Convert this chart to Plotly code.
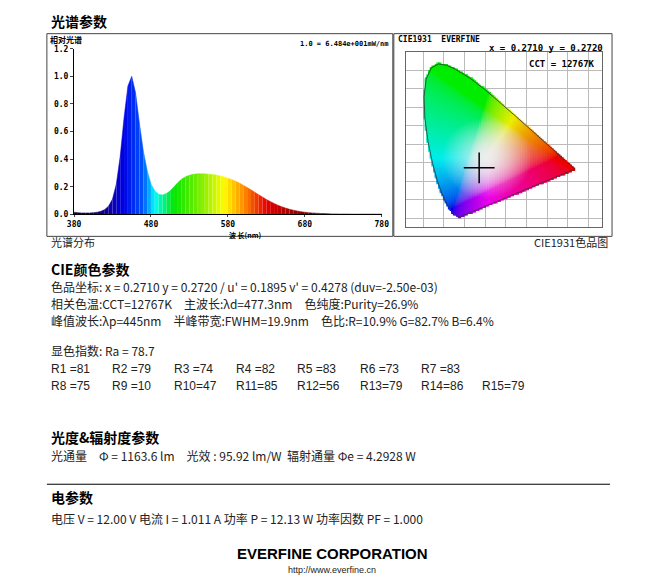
import plotly.graph_objects as go
import numpy as np

# ---- data ----
wavelengths = list(range(380, 785, 5))
rel_power = [0.015,0.012,0.010,0.010,0.010,0.012,0.015,0.022,0.035,0.06,0.11,0.22,0.42,0.70,0.93,1.00,0.88,0.66,0.46,0.32,0.22,0.17,0.145,0.14,0.15,0.17,0.20,0.23,0.255,0.272,0.283,0.290,0.293,0.294,0.293,0.291,0.288,0.284,0.278,0.271,0.262,0.252,0.240,0.226,0.211,0.195,0.178,0.160,0.142,0.125,0.108,0.093,0.079,0.066,0.055,0.045,0.037,0.030,0.024,0.019,0.015,0.012,0.010,0.008,0.006,0.005,0.004,0.003,0.003,0.002,0.002,0.002,0.001,0.001,0.001,0.001,0.001,0.001,0.001,0.001,0.001]
spec_xticks = [380, 480, 580, 680, 780]
spec_yticks = [0.0, 0.2, 0.4, 0.6, 0.8, 1.0, 1.2]
locus_x = [0.1741,0.1440,0.1241,0.1096,0.0913,0.0687,0.0454,0.0235,0.0082,0.0039,0.0139,0.0389,0.0743,0.1142,0.1547,0.2296,0.3016,0.3731,0.4441,0.5125,0.5752,0.6270,0.6915,0.7190,0.7347]
locus_y = [0.0050,0.0297,0.0578,0.0868,0.1327,0.2007,0.2950,0.4127,0.5384,0.6548,0.7502,0.8120,0.8338,0.8262,0.8059,0.7543,0.6923,0.6245,0.5547,0.4866,0.4242,0.3725,0.3083,0.2809,0.2653]
chroma_x, chroma_y = 0.2710, 0.2720

W, H = 650, 579
def px(x): return (48 + (x - 63) / 0.973) / W
def py(y): return 1 - (22 + (y - 35) / 0.981) / H

def wl_color(w):
    stops = [(380,(10,0,60)),(420,(20,0,140)),(445,(0,0,230)),(470,(0,90,255)),(485,(0,255,255)),(510,(0,230,0)),(550,(150,240,0)),(575,(255,255,0)),(600,(255,140,0)),(630,(230,0,0)),(680,(130,0,0)),(740,(40,0,0)),(780,(10,0,0))]
    for (a,ca),(b,cb) in zip(stops, stops[1:]):
        if a <= w <= b:
            t = (w-a)/(b-a)
            c = [int(ca[i]+(cb[i]-ca[i])*t) for i in range(3)]
            return f"rgb({c[0]},{c[1]},{c[2]})"
    return "rgb(0,0,0)"

fig = go.Figure()
for i in range(len(wavelengths)-1):
    col = wl_color((wavelengths[i]+wavelengths[i+1])/2)
    fig.add_trace(go.Scatter(x=[wavelengths[i], wavelengths[i+1]], y=[rel_power[i], rel_power[i+1]],
                             fill="tozeroy", mode="lines", line=dict(color=col, width=0.5),
                             fillcolor=col, showlegend=False, hoverinfo="skip", xaxis="x", yaxis="y"))

def inside(x, y, xs, ys):
    n = len(xs); c = False; j = n-1
    for i in range(n):
        if ((ys[i] > y) != (ys[j] > y)) and (x < (xs[j]-xs[i])*(y-ys[i])/(ys[j]-ys[i]+1e-12)+xs[i]):
            c = not c
        j = i
    return c
gx, gy, gc = [], [], []
for xv in np.arange(0.0, 0.75, 0.008):
    for yv in np.arange(0.0, 0.85, 0.008):
        if inside(xv, yv, locus_x, locus_y):
            X = xv/yv; Z = (1-xv-yv)/yv
            r = 3.2406*X - 1.5372 - 0.4986*Z
            g = -0.9689*X + 1.8758 + 0.0415*Z
            b = 0.0557*X - 0.2040 + 1.0570*Z
            rgb = np.clip([r, g, b], 0, None); m = max(rgb.max(), 1e-6); rgb = rgb/m
            rgb = np.where(rgb <= 0.0031308, 12.92*rgb, 1.055*rgb**(1/2.4)-0.055)
            d = min(1.0, np.hypot(xv-0.3127, yv-0.329)/0.22)
            rgb = np.clip(rgb, 0, 1)*d + (1-d)
            rgb = rgb*0.93
            gx.append(xv); gy.append(yv)
            gc.append("rgb(%d,%d,%d)" % tuple(int(v*255) for v in np.clip(rgb, 0, 1)))
fig.add_trace(go.Scatter(x=gx, y=gy, mode="markers", marker=dict(symbol="square", size=3.5, color=gc, line=dict(width=0)),
                         showlegend=False, hoverinfo="skip", xaxis="x2", yaxis="y2"))
fig.add_trace(go.Scatter(x=locus_x+[locus_x[0]], y=locus_y+[locus_y[0]], mode="lines", line=dict(color="#333", width=0.8),
                         showlegend=False, hoverinfo="skip", xaxis="x2", yaxis="y2"))
fig.add_trace(go.Scatter(x=[chroma_x], y=[chroma_y], mode="markers", marker=dict(symbol="cross-thin", size=22, line=dict(color="black", width=1.5)),
                         showlegend=False, xaxis="x2", yaxis="y2"))

mono = dict(family="DejaVu Sans Mono", size=8, color="black", weight="bold")
fig.update_layout(
    width=W, height=H, margin=dict(l=0, r=0, t=0, b=0), paper_bgcolor="white", plot_bgcolor="white",
    xaxis=dict(domain=[px(75), px(381)], range=[380, 780], tickvals=spec_xticks, showgrid=False, zeroline=False,
               showline=True, linecolor="black", ticks="outside", ticklen=2, tickfont=mono, anchor="y"),
    yaxis=dict(domain=[py(215), py(50)], range=[0, 1.2], tickvals=spec_yticks, tickformat=".1f", showgrid=False, zeroline=False,
               showline=True, linecolor="black", ticks="outside", ticklen=3, tickfont=mono, anchor="x"),
    xaxis2=dict(domain=[px(405), px(600)], range=[-0.084, 0.866], dtick=0.1, showgrid=True, gridcolor="#bbb", zeroline=False,
                showticklabels=False, showline=True, linecolor="#666", mirror=True, anchor="y2"),
    yaxis2=dict(domain=[py(228), py(53)], range=[-0.05, 0.9], dtick=0.1, showgrid=True, gridcolor="#bbb", zeroline=False,
                showticklabels=False, showline=True, linecolor="#666", mirror=True, anchor="x2"),
)

shapes = [
    dict(type="rect", xref="paper", yref="paper", x0=px(48), x1=px(392), y0=py(237), y1=py(35), line=dict(color="#444", width=1)),
    dict(type="rect", xref="paper", yref="paper", x0=px(393), x1=px(610), y0=py(237), y1=py(35), line=dict(color="#444", width=1)),
    dict(type="line", xref="paper", yref="paper", x0=px(48), x1=px(608), y0=py(484), y1=py(484), line=dict(color="black", width=1)),
]
fig.update_layout(shapes=shapes)

cjk = "Noto Sans CJK SC"
def txt(x, y, s, size=12, bold=False, anchor="left", family=cjk, color="#222"):
    fig.add_annotation(x=px(x), y=py(y), xref="paper", yref="paper", text=("<b>%s</b>" % s) if bold else s,
                       showarrow=False, xanchor=anchor, yanchor="middle", font=dict(family=family, size=size, color=color))

txt(50, 22, "光谱参数", 14, True, color="black")
txt(49, 41, "相对光谱", 8, True, color="black")
txt(298, 45, "<b>1.0 = 6.484e+001mW/nm</b>", 7, family="DejaVu Sans Mono", color="black")
txt(263, 236, "<b>波 长(nm)</b>", 7, anchor="right", color="black")
txt(395, 41, "<b>CIE1931  EVERFINE</b>", 8, family="DejaVu Sans Mono", color="black")
txt(486, 49, "<b>x = 0.2710 y = 0.2720</b>", 9, family="DejaVu Sans Mono", color="black")
txt(525, 65, "<b>CCT = 12767K</b>", 9, family="DejaVu Sans Mono", color="black")
txt(50, 243, "光谱分布", 11)
txt(608, 243, "CIE1931色品图", 11, anchor="right")
txt(50, 270, "CIE颜色参数", 14, True, color="black")
txt(50, 287, "色品坐标: x = 0.2710 y = 0.2720 / u' = 0.1895 v' = 0.4278 (duv=-2.50e-03)")
txt(50, 304, "相关色温:CCT=12767K　主波长:λd=477.3nm　色纯度:Purity=26.9%")
txt(50, 321, "峰值波长:λp=445nm　半峰带宽:FWHM=19.9nm　色比:R=10.9% G=82.7% B=6.4%")
txt(50, 351, "显色指数: Ra = 78.7")
row1 = ["R1 =81", "R2 =79", "R3 =74", "R4 =82", "R5 =83", "R6 =73", "R7 =83"]
row2 = ["R8 =75", "R9 =10", "R10=47", "R11=85", "R12=56", "R13=79", "R14=86", "R15=79"]
cols = [50, 111, 172, 234, 295, 357, 418, 479]
for s, c in zip(row1, cols): txt(c, 369, s, 12, family="Liberation Sans")
for s, c in zip(row2, cols): txt(c, 386, s, 12, family="Liberation Sans")
txt(50, 437, "光度&辐射度参数", 14, True, color="black")
txt(50, 455, "光通量　Φ = 1163.6 lm　光效 : 95.92 lm/W  辐射通量 Φe = 4.2928 W")
txt(50, 497, "电参数", 14, True, color="black")
txt(50, 518, "电压 V = 12.00 V 电流 I = 1.011 A 功率 P = 12.13 W 功率因数 PF = 1.000")
txt(332, 553, "EVERFINE CORPORATION", 15, True, anchor="center", family="Liberation Sans", color="black")
txt(332, 569, "http://www.everfine.cn", 9, anchor="center", family="Liberation Sans")

fig.write_html("out.html")
